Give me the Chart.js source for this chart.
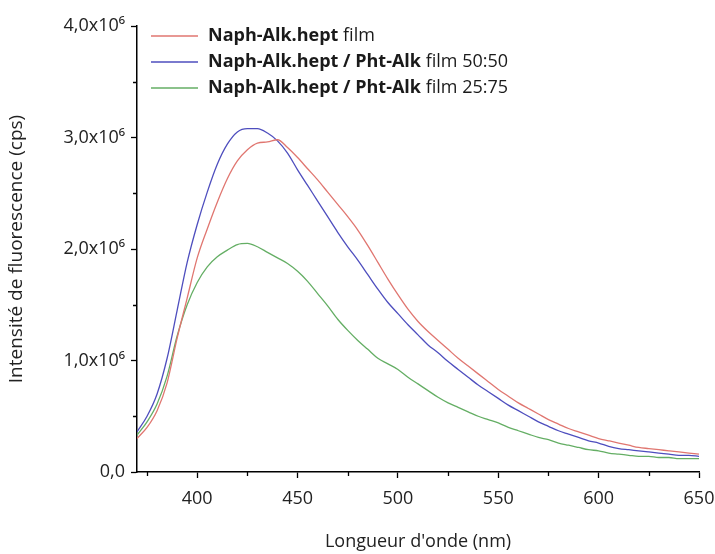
<!DOCTYPE html>
<html>
<head>
<meta charset="utf-8">
<script src="https://cdn.jsdelivr.net/npm/chart.js@4.4.0/dist/chart.umd.min.js"></script>
<style>
  html, body { margin: 0; padding: 0; background: #fff; }
  #wrap { width: 715px; height: 554px; }
</style>
</head>
<body>
<div id="wrap"><canvas id="spectra_Chart"></canvas></div>
<script>
// wavelength (nm), intensities in 10^6 cps
const wavelengths = [370, 375, 380, 385, 390, 395, 400, 405, 410, 415, 420, 425, 430, 435, 440, 445, 450, 455, 460, 465,
  470, 475, 480, 485, 490, 495, 500, 505, 510, 515, 520, 525, 530, 535, 540, 545, 550, 555, 560, 565,
  570, 575, 580, 585, 590, 595, 600, 605, 610, 615, 620, 625, 630, 635, 640, 645, 650];

const naph_film = [0.30, 0.40, 0.55, 0.80, 1.20, 1.56, 1.92, 2.18, 2.42, 2.63, 2.79, 2.89, 2.95, 2.96, 2.98, 2.91, 2.82, 2.72, 2.62, 2.51,
  2.40, 2.29, 2.17, 2.03, 1.88, 1.73, 1.59, 1.46, 1.35, 1.26, 1.18, 1.10, 1.02, 0.95, 0.88, 0.81, 0.74, 0.68, 0.62, 0.57,
  0.52, 0.47, 0.43, 0.39, 0.36, 0.33, 0.30, 0.28, 0.26, 0.24, 0.22, 0.21, 0.20, 0.19, 0.18, 0.17, 0.16];

const naph_pht_5050 = [0.36, 0.50, 0.70, 1.02, 1.45, 1.88, 2.22, 2.51, 2.76, 2.94, 3.05, 3.08, 3.08, 3.04, 2.97, 2.86, 2.71, 2.57, 2.43, 2.29,
  2.15, 2.02, 1.90, 1.77, 1.64, 1.52, 1.42, 1.32, 1.23, 1.14, 1.07, 0.99, 0.92, 0.85, 0.78, 0.72, 0.66, 0.60, 0.55, 0.50,
  0.45, 0.41, 0.37, 0.34, 0.31, 0.28, 0.26, 0.23, 0.21, 0.20, 0.19, 0.18, 0.17, 0.16, 0.15, 0.15, 0.14];

const naph_pht_2575 = [0.33, 0.45, 0.61, 0.86, 1.22, 1.50, 1.70, 1.84, 1.93, 1.99, 2.04, 2.05, 2.02, 1.97, 1.92, 1.87, 1.80, 1.71, 1.60, 1.49,
  1.37, 1.27, 1.18, 1.10, 1.02, 0.97, 0.92, 0.85, 0.79, 0.73, 0.67, 0.62, 0.58, 0.54, 0.50, 0.47, 0.44, 0.40, 0.37, 0.34,
  0.31, 0.29, 0.26, 0.24, 0.22, 0.20, 0.19, 0.17, 0.16, 0.15, 0.14, 0.14, 0.13, 0.13, 0.12, 0.12, 0.12];

// legend: bold part + regular part
const legend_bold = ['Naph-Alk.hept', 'Naph-Alk.hept / Pht-Alk', 'Naph-Alk.hept / Pht-Alk'];
const legend_rest = [' film', ' film 50:50', ' film 25:75'];

const x_ticks = [400, 450, 500, 550, 600, 650];
const x_minor = [375, 425, 475, 525, 575, 625];
const y_ticks = [0, 1, 2, 3, 4];
const y_tick_labels = ['0,0', '1,0x10⁶', '2,0x10⁶', '3,0x10⁶', '4,0x10⁶'];
const y_minor = [0.5, 1.5, 2.5, 3.5];

const colors = ['rgb(224, 118, 112)', 'rgb(78, 78, 190)', 'rgb(100, 174, 100)'];
const series = [naph_film, naph_pht_5050, naph_pht_2575];

const FONT = '"Open Sans", "DejaVu Sans", sans-serif';

const minorTicks = {
  id: 'minorTicks',
  afterDraw(chart) {
    const ctx = chart.ctx;
    const xs = chart.scales.x, ys = chart.scales.y;
    ctx.save();
    ctx.strokeStyle = '#000';
    ctx.lineWidth = 1.3;
    ctx.beginPath();
    x_minor.forEach(v => {
      const px = Math.round(xs.getPixelForValue(v)) + 0.5;
      ctx.moveTo(px, ys.bottom);
      ctx.lineTo(px, ys.bottom + 4);
    });
    y_minor.forEach(v => {
      const py = Math.round(ys.getPixelForValue(v)) + 0.5;
      ctx.moveTo(xs.left, py);
      ctx.lineTo(xs.left - 4, py);
    });
    ctx.stroke();
    ctx.restore();
  }
};

const filmLegend = {
  id: 'filmLegend',
  afterDraw(chart) {
    const ctx = chart.ctx;
    const area = chart.chartArea;
    ctx.save();
    ctx.textBaseline = 'middle';
    chart.data.datasets.forEach((ds, i) => {
      const y = area.top + 10 + i * 26;
      const x0 = area.left + 14;
      ctx.strokeStyle = ds.borderColor;
      ctx.lineWidth = 1.3;
      ctx.beginPath();
      ctx.moveTo(x0, y);
      ctx.lineTo(x0 + 47, y);
      ctx.stroke();
      ctx.fillStyle = '#1a1a1a';
      ctx.font = 'bold 18px ' + FONT;
      ctx.fillText(legend_bold[i], x0 + 57, y);
      const w = ctx.measureText(legend_bold[i]).width;
      ctx.font = '18px ' + FONT;
      ctx.fillText(legend_rest[i], x0 + 57 + w, y);
    });
    ctx.restore();
  }
};

const data = {
  datasets: series.map((vals, i) => ({
    label: legend_bold[i] + legend_rest[i],
    data: wavelengths.map((w, j) => ({ x: w, y: vals[j] })),
    borderColor: colors[i],
    backgroundColor: colors[i],
    borderWidth: 1.3,
    pointRadius: 0,
    cubicInterpolationMode: 'monotone',
    fill: false
  }))
};

const config = {
  type: 'line',
  data: data,
  options: {
    responsive: true,
    maintainAspectRatio: false,
    animation: false,
    devicePixelRatio: 1,
    layout: { padding: { top: 26, right: 16, left: 0, bottom: 0 } },
    plugins: {
      legend: { display: false },
      tooltip: { enabled: false }
    },
    scales: {
      x: {
        type: 'linear',
        min: 370,
        max: 650,
        afterBuildTicks: s => { s.ticks = x_ticks.map(v => ({ value: v })); },
        afterFit: s => { s.height = 82; s.paddingLeft = 0; s.paddingRight = 0; },
        ticks: {
          font: { family: FONT, size: 18 },
          color: '#222',
          padding: 10,
          maxRotation: 0,
          callback: v => String(v)
        },
        grid: { drawOnChartArea: false, tickLength: 6, color: '#000', tickWidth: 1.3 },
        border: { color: '#000', width: 1.5 },
        title: {
          display: true,
          text: "Longueur d'onde (nm)",
          font: { family: FONT, size: 18 },
          color: '#222',
          padding: { top: 0, bottom: 1 }
        }
      },
      y: {
        type: 'linear',
        min: 0,
        max: 4,
        afterBuildTicks: s => { s.ticks = y_ticks.map(v => ({ value: v })); },
        afterFit: s => { s.width = 137; },
        ticks: {
          font: { family: FONT, size: 18 },
          color: '#222',
          padding: 6,
          callback: v => y_tick_labels[y_ticks.indexOf(v)]
        },
        grid: { drawOnChartArea: false, tickLength: 6, color: '#000', tickWidth: 1.3 },
        border: { color: '#000', width: 1.5 },
        title: {
          display: true,
          text: 'Intensité de fluorescence (cps)',
          font: { family: FONT, size: 19 },
          color: '#222',
          padding: { top: 5, bottom: 0 }
        }
      }
    }
  },
  plugins: [minorTicks, filmLegend]
};

let myChart = new Chart(document.getElementById('spectra_Chart'), config);
</script>
</body>
</html>
